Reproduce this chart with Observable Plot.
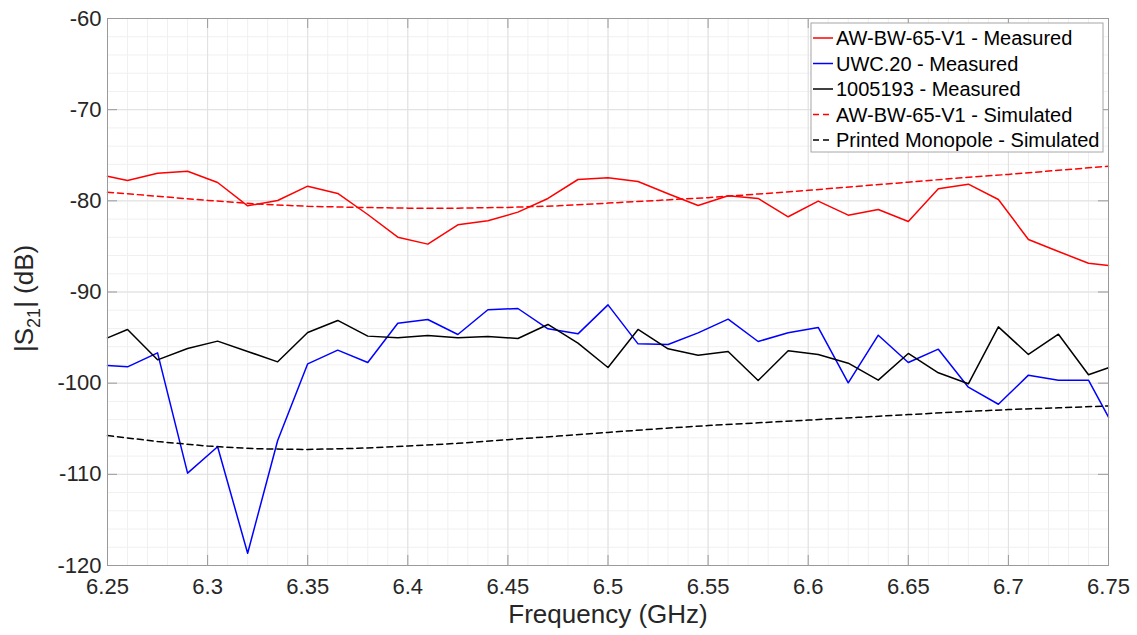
<!DOCTYPE html>
<html>
<head>
<meta charset="utf-8">
<script src="https://cdn.jsdelivr.net/npm/d3@7"></script>
<script src="https://cdn.jsdelivr.net/npm/@observablehq/plot@0.6"></script>
<style>
  html, body { margin: 0; padding: 0; background: #ffffff; }
  #chart { width: 1137px; height: 635px; }
</style>
</head>
<body>
<div id="chart"></div>
<script>
// ---- Data ----
const freqMeasured = [6.25, 6.26, 6.275, 6.29, 6.305, 6.32, 6.335, 6.35, 6.365, 6.38, 6.395, 6.41, 6.425, 6.44, 6.455, 6.47, 6.485, 6.5, 6.515, 6.53, 6.545, 6.56, 6.575, 6.59, 6.605, 6.62, 6.635, 6.65, 6.665, 6.68, 6.695, 6.71, 6.725, 6.74, 6.75];
const awbwMeasured = [-77.3, -77.77, -76.97, -76.75, -77.99, -80.55, -79.96, -78.39, -79.19, -81.5, -83.99, -84.75, -82.63, -82.19, -81.24, -79.74, -77.66, -77.48, -77.88, -79.23, -80.51, -79.45, -79.74, -81.75, -80.03, -81.57, -80.95, -82.27, -78.68, -78.17, -79.85, -84.24, -85.56, -86.84, -87.09];
const uwcMeasured = [-98.06, -98.21, -96.67, -109.87, -106.98, -118.65, -106.29, -97.88, -96.38, -97.73, -93.42, -93.02, -94.66, -91.95, -91.81, -94.04, -94.59, -91.41, -95.69, -95.76, -94.48, -92.98, -95.43, -94.48, -93.89, -99.96, -94.74, -97.73, -96.27, -100.44, -102.31, -99.12, -99.67, -99.67, -103.73];
const m1005193Measured = [-95.03, -94.11, -97.44, -96.2, -95.39, -96.52, -97.66, -94.44, -93.12, -94.84, -95.03, -94.77, -95.03, -94.88, -95.1, -93.56, -95.61, -98.28, -94.11, -96.23, -96.93, -96.52, -99.71, -96.45, -96.85, -97.81, -99.67, -96.74, -98.86, -100.07, -93.82, -96.85, -94.63, -99.08, -98.31];

const freqSimulated = [6.25, 6.275, 6.3, 6.325, 6.35, 6.375, 6.4, 6.425, 6.45, 6.475, 6.5, 6.525, 6.55, 6.575, 6.6, 6.625, 6.65, 6.675, 6.7, 6.725, 6.75];
const awbwSimulated = [-79.05, -79.5, -79.95, -80.35, -80.6, -80.72, -80.8, -80.8, -80.72, -80.55, -80.25, -79.95, -79.65, -79.25, -78.85, -78.4, -77.95, -77.5, -77.1, -76.65, -76.2];
const monopoleSimulated = [-105.75, -106.4, -106.9, -107.2, -107.27, -107.15, -106.9, -106.6, -106.2, -105.8, -105.4, -105.0, -104.65, -104.35, -104.05, -103.75, -103.45, -103.15, -102.9, -102.7, -102.5];

const seriesNames = ["AW-BW-65-V1 - Measured", "UWC.20 - Measured", "1005193 - Measured", "AW-BW-65-V1 - Simulated", "Printed Monopole - Simulated"];
const seriesColors = ["#ff0000", "#0000ff", "#000000", "#ff0000", "#000000"];
const seriesDashed = [false, false, false, true, true];

const xTicks = [6.25, 6.3, 6.35, 6.4, 6.45, 6.5, 6.55, 6.6, 6.65, 6.7, 6.75];
const yTicks = [-120, -110, -100, -90, -80, -70, -60];

// ---- Build tables ----
const rows = [];
[awbwMeasured, uwcMeasured, m1005193Measured].forEach((vals, i) => {
  vals.forEach((v, j) => rows.push({series: seriesNames[i], f: freqMeasured[j], s21: v}));
});
[awbwSimulated, monopoleSimulated].forEach((vals, k) => {
  vals.forEach((v, j) => rows.push({series: seriesNames[3 + k], f: freqSimulated[j], s21: v}));
});

const minorX = d3.range(625, 676, 1).map(d => d / 100);
const minorY = d3.range(-120, -59, 2);

const font = "'Liberation Sans', Arial, Helvetica, sans-serif";
const axisColor = "#9a9a9a";
const W = 1137, H = 635;
const mL = 107, mR = 29, mT = 18, mB = 70;

const marks = [
  Plot.gridX(minorX, {stroke: "#f0f0f0", strokeOpacity: 1}),
  Plot.gridY(minorY, {stroke: "#f0f0f0", strokeOpacity: 1}),
  Plot.gridX(xTicks, {stroke: "#e0e0e0", strokeOpacity: 1}),
  Plot.gridY(yTicks, {stroke: "#e0e0e0", strokeOpacity: 1}),
];
seriesNames.forEach((name, i) => {
  marks.push(Plot.line(rows.filter(r => r.series === name), {
    x: "f", y: "s21",
    stroke: seriesColors[i],
    strokeWidth: 1.5,
    strokeDasharray: seriesDashed[i] ? "6,4" : null
  }));
});
marks.push(
  // inward ticks, MATLAB style
  Plot.ruleX(xTicks, {x: d => d, y1: -120, y2: -118.9, stroke: axisColor}),
  Plot.ruleX(xTicks, {x: d => d, y1: -60, y2: -61.1, stroke: axisColor}),
  Plot.ruleY(yTicks, {y: d => d, x1: 6.25, x2: 6.255, stroke: axisColor}),
  Plot.ruleY(yTicks, {y: d => d, x1: 6.75, x2: 6.745, stroke: axisColor}),
  Plot.frame({stroke: axisColor}),
  Plot.axisX(xTicks, {anchor: "bottom", tickSize: 0, tickPadding: 13, tickFormat: d => String(d), label: null, fill: "#262626", fontSize: 22}),
  Plot.axisY(yTicks, {anchor: "left", tickSize: 0, tickPadding: 6, tickFormat: d => String(d), label: null, fill: "#262626", fontSize: 22}),
  Plot.text(["Frequency (GHz)"], {frameAnchor: "bottom", dy: 57, fontSize: 26, fill: "#262626", text: d => d})
);

const chart = Plot.plot({
  width: W,
  height: H,
  marginLeft: mL,
  marginRight: mR,
  marginTop: mT,
  marginBottom: mB,
  x: {domain: [6.25, 6.75], axis: null},
  y: {domain: [-120, -60], axis: null},
  style: {fontFamily: font, fontSize: "22px", background: "#ffffff", overflow: "visible"},
  marks
});
document.getElementById("chart").appendChild(chart);

// ---- Y axis label with subscript ----
const svg = d3.select(chart);
const yl = svg.append("text")
  .attr("transform", "translate(33,352) rotate(-90)")
  .attr("text-anchor", "start")
  .attr("font-family", font)
  .attr("font-size", 26)
  .attr("fill", "#262626");
yl.append("tspan").text("|S");
yl.append("tspan").attr("font-size", 18).attr("dy", 7).text("21");
yl.append("tspan").attr("dy", -7).text("| (dB)");

// ---- Legend ----
const lg = svg.append("g").attr("text-anchor", "start");
lg.append("rect")
  .attr("x", 811).attr("y", 23).attr("width", 292).attr("height", 129)
  .attr("fill", "#ffffff").attr("stroke", "#a6a6a6").attr("stroke-width", 1);
seriesNames.forEach((name, i) => {
  const y = 38 + i * 25.5;
  lg.append("line")
    .attr("x1", 813).attr("x2", 833).attr("y1", y).attr("y2", y)
    .attr("stroke", seriesColors[i]).attr("stroke-width", 1.5)
    .attr("stroke-dasharray", seriesDashed[i] ? "6,4" : null);
  lg.append("text")
    .attr("x", 836).attr("y", y).attr("dy", "0.35em")
    .attr("text-anchor", "start")
    .attr("font-family", font).attr("font-size", 20).attr("fill", "#000000")
    .text(name);
});
</script>
</body>
</html>
